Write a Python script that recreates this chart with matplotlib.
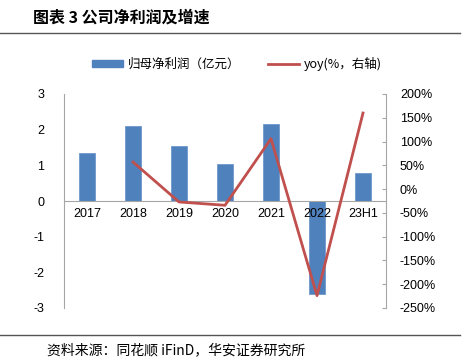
import matplotlib.pyplot as plt
import matplotlib.lines as mlines
import matplotlib.patches as mpatches
import numpy as np

plt.rcParams['font.family'] = ['Liberation Sans', 'Noto Sans CJK SC', 'DejaVu Sans']

categories = ['2017', '2018', '2019', '2020', '2021', '2022', '23H1']
profit = [1.34, 2.10, 1.54, 1.04, 2.16, -2.60, 0.78]
yoy_cats = ['2018', '2019', '2020', '2021', '2022', '23H1']
yoy = [57, -27, -34, 106, -224, 160]

BLUE = '#4F81BD'
RED = '#C0504D'
GRAY = '#A6A6A6'

fig = plt.figure(figsize=(4.68, 3.64), dpi=100)
ax = fig.add_axes([64 / 468, 1 - 308 / 364, 322 / 468, 214 / 364])
ax2 = ax.twinx()

x = np.arange(len(categories))
ax.bar(x, profit, width=0.35, color=BLUE, edgecolor='#6f98cc', linewidth=0.6, zorder=2)
ax.set_axisbelow(False)
ax.set_xlim(-0.5, len(categories) - 0.5)
ax.set_ylim(-3, 3)
ax.set_yticks([-3, -2, -1, 0, 1, 2, 3])
ax.set_yticklabels(['-3', '-2', '-1', '0', '1', '2', '3'])

xpos = [categories.index(c) for c in yoy_cats]
ax2.plot(xpos, yoy, color=RED, linewidth=2, zorder=3)
ax2.set_ylim(-250, 200)
ticks = np.arange(-250, 201, 50)
ax2.set_yticks(ticks)
ax2.set_yticklabels(['%d%%' % t for t in ticks])

# zero line with category labels
ax.spines['bottom'].set_position(('data', 0))
ax.spines['bottom'].set_color(GRAY)
ax.set_xticks(x)
ax.set_xticklabels(categories)
ax.tick_params(axis='x', length=0, pad=5, labelsize=9)
ax.tick_params(axis='y', length=0, pad=14, labelsize=9)
ax2.tick_params(axis='y', direction='in', length=3, color=GRAY, pad=10, labelsize=9)

for a in (ax, ax2):
    a.spines['top'].set_visible(False)
    a.patch.set_visible(False)
ax.spines['left'].set_color(GRAY)
ax.spines['right'].set_visible(False)
ax2.spines['left'].set_visible(False)
ax2.spines['bottom'].set_visible(False)
ax2.spines['right'].set_color(GRAY)
ax.set_zorder(ax2.get_zorder() - 1)

# legend
h1 = mpatches.Patch(color=BLUE)
h2 = mlines.Line2D([], [], color=RED, linewidth=2)
fig.legend([h1, h2], ['归母净利润（亿元）', 'yoy(%，右轴)'], loc='center',
           bbox_to_anchor=(237 / 468, 1 - 64 / 364), ncol=2, frameon=False,
           handlelength=2.5, handleheight=0.5, handletextpad=0.4, columnspacing=2.2,
           prop={'family': ['Noto Sans CJK SC', 'DejaVu Sans'], 'size': 9})

# title and rules
fig.text(33 / 468, 1 - 18 / 364, '图表 3 公司净利润及增速', fontsize=11.5, fontweight='bold',
         va='center', ha='left', family=['Noto Sans CJK SC', 'DejaVu Sans'])
fig.add_artist(mlines.Line2D([0, 460 / 468], [1 - 33 / 364, 1 - 33 / 364], color='#555555', linewidth=1))
fig.add_artist(mlines.Line2D([0, 460 / 468], [1 - 335 / 364, 1 - 335 / 364], color='#555555', linewidth=1))
fig.text(47 / 468, 1 - 350 / 364, '资料来源：同花顺 iFinD，华安证券研究所', fontsize=10,
         va='center', ha='left', family=['Noto Sans CJK SC', 'DejaVu Sans'])

fig.savefig('out.png', dpi=100)
